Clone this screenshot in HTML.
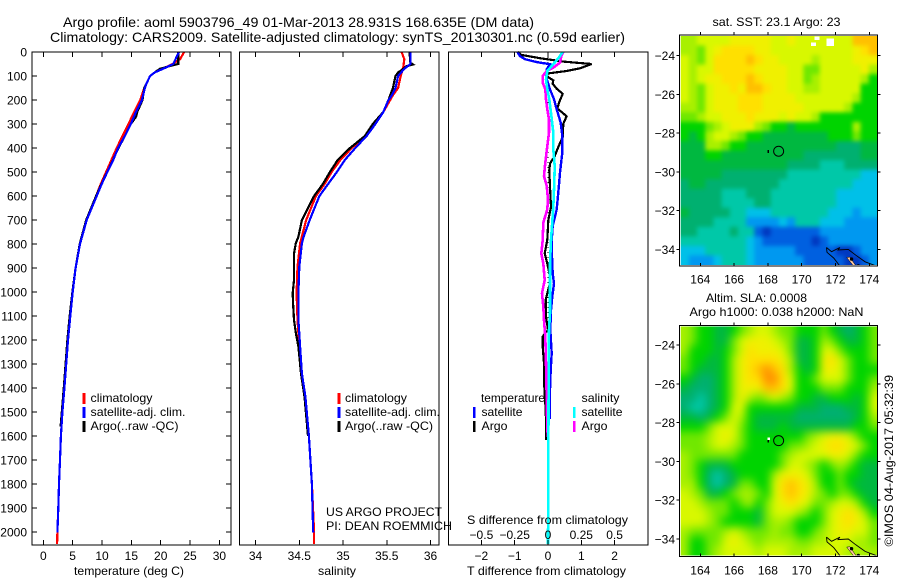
<!DOCTYPE html>
<html lang="en">
<head>
<meta charset="utf-8">
<title>Argo profile 5903796_49</title>
<style>
html,body{margin:0;padding:0;background:#fff;}
svg{display:block;}
text{font-family:"Liberation Sans",Arial,sans-serif;font-size:12px;fill:#000;}
.t14{font-size:14px;}
.crisp{shape-rendering:crispEdges;}
</style>
</head>
<body>
<svg id="chart" xmlns="http://www.w3.org/2000/svg" width="900" height="580" viewBox="0 0 900 580">
<rect x="0" y="0" width="900" height="580" fill="#fff"/>
<text class="t14" x="63" y="27" textLength="471" lengthAdjust="spacingAndGlyphs">Argo profile: aoml 5903796_49 01-Mar-2013 28.931S 168.635E (DM data)</text>
<text class="t14" x="50" y="42" textLength="575" lengthAdjust="spacingAndGlyphs">Climatology: CARS2009. Satellite-adjusted climatology: synTS_20130301.nc (0.59d earlier)</text>
<g id="layer-plots"></g>
<g id="layer-text">
<text x="74" y="575" textLength="110" lengthAdjust="spacingAndGlyphs">temperature (deg C)</text>
<text x="318" y="575" textLength="38" lengthAdjust="spacingAndGlyphs">salinity</text>
<text x="467" y="575" textLength="159" lengthAdjust="spacingAndGlyphs">T difference from climatology</text>
<text x="467" y="524" textLength="161" lengthAdjust="spacingAndGlyphs">S difference from climatology</text>
<text x="326" y="516" textLength="116" lengthAdjust="spacingAndGlyphs">US ARGO PROJECT</text>
<text x="326" y="530" textLength="126" lengthAdjust="spacingAndGlyphs">PI: DEAN ROEMMICH</text>

<rect x="82.5" y="393" width="3" height="11" fill="#ff0000"/>
<rect x="82.5" y="407" width="3" height="11" fill="#0000ff"/>
<rect x="82.5" y="421" width="3" height="11" fill="#000"/>
<text x="90.5" y="402" textLength="62" lengthAdjust="spacingAndGlyphs">climatology</text>
<text x="90.5" y="416" textLength="95" lengthAdjust="spacingAndGlyphs">satellite-adj. clim.</text>
<text x="90.5" y="430" textLength="88" lengthAdjust="spacingAndGlyphs">Argo(..raw -QC)</text>

<rect x="337.5" y="393" width="3" height="11" fill="#ff0000"/>
<rect x="337.5" y="407" width="3" height="11" fill="#0000ff"/>
<rect x="337.5" y="421" width="3" height="11" fill="#000"/>
<text x="345" y="402" textLength="62" lengthAdjust="spacingAndGlyphs">climatology</text>
<text x="345" y="416" textLength="95" lengthAdjust="spacingAndGlyphs">satellite-adj. clim.</text>
<text x="345" y="430" textLength="88" lengthAdjust="spacingAndGlyphs">Argo(..raw -QC)</text>

<text x="481" y="402" textLength="64" lengthAdjust="spacingAndGlyphs">temperature</text>
<rect x="473" y="407" width="2.5" height="11" fill="#0000ff"/>
<rect x="473" y="421" width="2.5" height="11" fill="#000"/>
<text x="481.5" y="416" textLength="41" lengthAdjust="spacingAndGlyphs">satellite</text>
<text x="481.5" y="430" textLength="26" lengthAdjust="spacingAndGlyphs">Argo</text>
<text x="581.5" y="402" textLength="38" lengthAdjust="spacingAndGlyphs">salinity</text>
<rect x="573" y="407" width="2.5" height="11" fill="#00ffff"/>
<rect x="573" y="421" width="2.5" height="11" fill="#ff00ff"/>
<text x="581.5" y="416" textLength="41" lengthAdjust="spacingAndGlyphs">satellite</text>
<text x="581.5" y="430" textLength="26" lengthAdjust="spacingAndGlyphs">Argo</text>

<text x="712.5" y="26" textLength="128" lengthAdjust="spacingAndGlyphs">sat. SST: 23.1 Argo: 23</text>
<text x="706" y="302" textLength="101" lengthAdjust="spacingAndGlyphs">Altim. SLA: 0.0008</text>
<text x="689.5" y="316" textLength="174" lengthAdjust="spacingAndGlyphs">Argo h1000: 0.038 h2000: NaN</text>
<text transform="translate(893,546.5) rotate(-90)" x="0" y="0" textLength="171.5" lengthAdjust="spacingAndGlyphs">©IMOS 04-Aug-2017 05:32:39</text>
</g>
</svg>
<script>
/* ---------- axis tick data ---------- */
const depthTicks = [0,100,200,300,400,500,600,700,800,900,1000,1100,1200,1300,1400,1500,1600,1700,1800,1900,2000];
const tempTicks = [0,5,10,15,20,25,30];
const salTicks = [34,34.5,35,35.5,36];
const salTickLabels = ['34','34.5','35','35.5','36'];
const tDiffTicks = [-2,-1,0,1,2];
const tDiffLabels = ['\u22122','\u22121','0','1','2'];
const sDiffTicks = [-0.5,-0.25,0,0.25,0.5];
const sDiffLabels = ['\u22120.5','\u22120.25','0','0.25','0.5'];
const lonTicks = [164,166,168,170,172,174];
const latTicks = [-24,-26,-28,-30,-32,-34];
const argoLon = 168.635;
const argoLat = -28.931;

/* ---------- temperature profiles ---------- */
const tempClimDepth = [0,30,50,60,70,85,100,130,150,200,250,300,350,400,450,500,550,600,700,800,900,1000,1100,1200,1300,1400,1500,1600,1700,1800,1900,2000,2050];
const tempClim = [24.0,23.3,22.0,21.2,20.3,19.0,18.2,17.6,17.2,16.5,15.5,14.5,13.5,12.5,11.6,10.7,9.8,9.0,7.3,6.2,5.5,5.0,4.6,4.2,3.9,3.6,3.25,3.0,2.85,2.67,2.55,2.4,2.35];
const tempSatDepth = [0,50,60,70,85,100,130,150,200,250,300,350,400,450,500,550,600,700,800,900,1000,1100,1200,1300,1400,1500,1600,1700,1800,1900,2003];
const tempSat = [23.1,22.15,21.3,20.4,19.0,18.2,17.6,17.3,16.8,15.8,14.9,13.9,12.75,11.9,10.9,9.95,9.1,7.4,6.25,5.5,5.0,4.6,4.2,3.9,3.6,3.25,3.0,2.85,2.67,2.55,2.4];
const tempArgoDepth = [0,50,55,70,85,100,130,150,200,250,270,300,350,400,450,500,550,600,700,800,900,1000,1100,1200,1300,1400,1500,1560];
const tempArgo = [23.0,23.0,22.1,19.9,19.0,18.2,17.6,17.2,16.9,16.0,15.8,14.9,13.9,12.8,11.85,10.9,9.9,9.0,7.3,6.2,5.5,4.95,4.5,4.1,3.8,3.5,3.15,2.95];

/* ---------- salinity profiles ---------- */
const salClimDepth = [0,30,60,100,150,180,200,250,300,350,400,450,500,550,600,700,797,894,1005,1116,1227,1340,1436,1600,1800,2000,2050];
const salClim = [35.67,35.70,35.69,35.66,35.63,35.57,35.54,35.46,35.35,35.25,35.10,34.97,34.87,34.79,34.69,34.58,34.51,34.48,34.47,34.48,34.50,34.53,34.57,34.61,34.645,34.67,34.67];
const salSatDepth = [0,50,70,100,150,180,200,250,300,350,400,450,500,550,600,700,770,797,894,1005,1116,1227,1340,1436,1600,1800,2003];
const salSat = [35.77,35.77,35.70,35.63,35.60,35.56,35.52,35.46,35.37,35.27,35.14,35.02,34.93,34.83,34.73,34.62,34.55,34.53,34.50,34.49,34.49,34.51,34.53,34.57,34.61,34.645,34.66];
const salArgoDepth = [0,45,52,60,70,85,100,150,200,250,300,350,400,450,500,550,600,700,770,797,840,950,1005,1050,1116,1170,1227,1340,1436,1600];
const salArgo = [35.76,35.77,35.80,35.72,35.69,35.63,35.60,35.57,35.52,35.46,35.34,35.25,35.08,34.94,34.85,34.77,34.67,34.53,34.49,34.46,34.44,34.44,34.425,34.43,34.44,34.46,34.49,34.52,34.56,34.60];

/* ---------- difference profiles ---------- */
const dTArgoDepth = [0,12,26,40,50,68,79,89,100,110,118,132,153,174,208,236,250,268,299,354,396,431,465,493,562,646,701,783,839,881,922,964,1005,1033,1102,1158,1186,1228,1297,1394,1463,1530,1617];
const dTArgo = [-0.9,-0.8,-0.24,0.46,1.31,0.96,0.56,0.01,-0.04,0.06,0.16,0.14,0.26,0.44,0.34,0.28,0.41,0.56,0.46,0.44,0.31,0.21,0.06,0.04,0.06,0.09,0.01,-0.02,-0.10,-0.02,0.04,0.06,-0.02,-0.07,-0.06,0.0,-0.16,-0.16,-0.12,-0.11,-0.08,-0.06,-0.06];
const dTSatDepth = [0,17,30,42,51,72,93,121,156,197,239,294,350,419,503,586,656,725,785,825,922,964,1019,1075,1158,1255,1325,1408,1529];
const dTSat = [-0.92,-0.84,-0.69,-0.34,0.06,-0.04,-0.07,-0.02,0.06,0.18,0.26,0.38,0.43,0.43,0.36,0.31,0.26,0.14,0.11,0.11,0.14,0.18,0.13,0.09,0.07,0.11,0.08,0.06,0.06];
const dSArgoDepth = [0,17,44,65,79,100,128,156,197,239,281,336,392,461,517,558,614,656,711,785,839,881,950,1005,1061,1117,1186,1297,1436,1575,1603];
const dSArgo = [0.115,0.10,0.09,0.04,-0.01,-0.04,-0.04,-0.02,-0.015,-0.005,0.0075,0.0075,-0.005,-0.02,-0.03,-0.01,0.0,-0.005,-0.035,-0.04,-0.05,-0.035,-0.025,-0.045,-0.035,-0.03,-0.02,-0.015,-0.01,-0.005,0.0];
const dSSatDepth = [0,24,51,79,114,156,197,253,336,406,475,544,646,725,783,881,1089,1158,1297,2050];
const dSSat = [0.11,0.08,0.04,-0.005,-0.015,-0.005,0.01,0.0225,0.04,0.04,0.05,0.0475,0.04,0.03,0.0225,0.015,0.015,0.0075,0.005,0.0];

/* ---------- map cells: colour-scale level per cell, north to south, west to east ---------- */
const sstLevels = [
[9,9,10,10,10,10,11,11,11,11,11,10,10,11,10,10,10,10,10,10,10,13,13,13],
[9,9,8,10,11,12,12,12,12,11,11,10,10,10,10,10,10,10,10,10,10,11,12,13],
[10,9,8,10,12,12,12,12,13,12,11,11,10,10,10,10,9,10,10,10,10,11,11,11],
[10,9,10,10,12,12,12,12,12,11,11,11,11,10,10,8,8,10,10,10,10,10,11,9],
[10,9,10,11,11,12,12,12,13,12,11,11,11,10,10,8,9,10,10,10,10,10,9,7],
[10,9,8,10,11,11,12,11,13,13,12,11,11,10,10,9,9,10,10,10,10,10,7,7],
[10,9,8,10,11,11,11,12,12,12,11,11,11,11,10,10,10,10,10,10,10,9,7,7],
[9,9,8,10,11,11,11,12,12,12,11,11,11,11,11,10,10,10,10,10,9,7,7,7],
[8,8,9,10,10,11,11,11,12,11,11,11,10,11,10,10,9,7,7,7,7,7,7,7],
[7,7,7,8,9,10,11,11,11,9,8,7,7,6,7,7,7,7,7,7,7,9,7,7],
[7,6,7,9,10,10,9,8,7,7,6,6,6,6,6,6,6,6,7,7,7,8,7,7],
[6,6,6,9,9,8,7,7,6,6,6,6,6,6,6,6,6,6,6,5,5,5,6,6],
[6,6,6,7,7,6,6,6,6,6,6,6,6,6,6,5,5,5,5,5,5,5,6,6],
[6,6,6,6,6,6,6,6,6,6,6,6,6,5,5,5,5,4,4,4,5,5,5,5],
[6,6,6,6,6,5,5,5,5,5,5,5,5,4,4,4,4,4,4,4,4,4,3,3],
[5,6,6,5,5,5,5,5,5,5,5,5,4,4,4,4,4,4,4,4,4,3,3,3],
[5,5,5,5,5,4,4,4,5,5,5,4,4,4,4,4,4,4,4,3,3,3,3,3],
[5,5,5,5,5,4,4,4,4,5,5,4,4,4,4,4,4,4,4,3,3,3,3,3],
[6,5,5,5,5,5,4,4,3,3,3,4,4,4,4,4,4,4,3,3,3,2,3,3],
[5,5,5,5,4,4,4,4,2,2,2,2,3,2,4,4,4,3,3,3,2,2,2,2],
[5,5,4,4,4,4,5,4,4,1,0,1,1,1,1,1,1,2,2,2,2,2,2,2],
[4,4,4,4,4,4,4,4,3,2,1,1,1,1,1,1,0,1,2,2,2,2,2,2],
[3,3,3,4,4,4,4,4,3,2,2,2,2,2,1,1,1,1,1,0,0,1,2,2],
[3,2,2,2,3,4,4,4,3,2,2,2,2,2,2,1,1,1,1,1,0,0,1,2]
];
const slaLevels = [
[9,8,7,7,6,6,7,8,9,10,10,9,8,8,7,7,7,8,7,6,5,6,7,8],
[9,8,7,7,6,6,8,10,11,11,11,10,9,8,6,6,7,9,8,7,6,6,7,8],
[9,7,7,7,6,7,8,10,12,11,11,11,10,8,6,6,7,10,10,8,7,7,7,8],
[8,7,7,6,6,7,9,11,12,12,12,12,11,9,6,6,7,11,12,10,8,7,7,8],
[8,7,6,6,6,7,9,11,12,13,14,13,12,9,7,6,7,11,11,10,8,7,7,7],
[7,6,5,5,6,7,9,11,12,12,14,14,12,10,7,7,8,10,10,10,8,7,7,8],
[6,5,5,5,6,7,9,11,11,11,13,13,12,10,7,7,7,8,8,8,7,7,7,9],
[5,5,4,5,6,7,9,11,9,8,9,10,9,8,7,7,6,6,7,7,7,6,7,10],
[5,4,4,5,6,7,10,10,7,7,7,7,7,7,6,6,6,5,5,5,6,6,7,10],
[6,6,5,6,7,8,10,9,7,6,6,6,6,6,5,5,5,5,5,5,5,6,7,9],
[7,7,7,8,10,10,10,8,7,6,6,6,7,6,6,6,6,6,6,6,6,7,7,8],
[8,8,8,9,10,11,10,8,7,7,7,7,7,7,7,8,9,10,11,11,10,8,7,7],
[8,8,8,9,10,10,9,8,7,7,7,7,7,8,8,9,10,11,12,12,11,10,8,7],
[9,8,8,8,8,8,8,7,7,7,7,7,8,9,10,10,10,10,11,11,10,8,7,7],
[9,8,7,6,6,6,7,7,7,7,7,7,8,10,10,9,8,7,8,9,8,7,6,6],
[9,8,7,5,4,5,6,7,7,7,7,9,11,11,11,10,8,7,7,8,7,7,6,6],
[9,9,7,5,4,5,6,8,8,7,7,10,12,13,12,11,9,7,7,8,7,6,6,6],
[10,9,8,6,6,7,8,9,9,8,7,10,12,13,12,11,9,8,7,8,8,7,6,6],
[10,10,9,8,8,8,7,8,9,7,8,10,11,12,11,10,8,8,9,10,10,9,7,6],
[10,10,10,9,8,8,7,7,7,6,8,10,10,10,9,8,7,8,10,11,12,11,9,7],
[10,10,10,9,8,7,7,7,7,6,8,9,9,8,7,7,7,8,10,11,12,11,10,8],
[9,8,8,8,8,9,10,9,8,8,8,9,8,8,7,7,8,9,10,11,11,10,10,8],
[9,7,7,8,8,10,11,10,9,8,9,9,9,9,8,8,9,9,10,10,10,9,9,8],
[9,7,7,8,9,10,10,10,10,9,10,10,10,9,9,9,10,10,10,10,9,9,9,9]
];
/* missing SST pixels, west and north edge of each gap in degrees */
const sstMissingLon = [171.48,170.55,170.75];
const sstMissingLat = [-23.1,-23.33,-23.0];
const coastNorthLon = [171.47,171.77,172.26,172.15,172.76,173.2,173.75,174.43];
const coastNorthLat = [-33.9,-34.12,-33.9,-34.03,-34.0,-34.3,-34.64,-34.86];
const coastSouthLon = [171.47,171.5,171.9,172.26];
const coastSouthLat = [-33.9,-34.15,-34.45,-34.86];
const landLon = [172.66,172.85,173.25,173.1];
const landLat = [-34.42,-34.4,-34.9,-34.9];
const blobLon = [172.95,173.35];
const blobLat = [-34.5,-34.85];

/* colour scale (presentation, index = level) */
const scaleColors = ['#0038c0','#0060e0','#0098f0','#00c0e8','#00c8a8','#00b070','#00b840','#00d400','#70e800','#a8f000','#d8f800','#f0f000','#ffe000','#ffc000','#ff9000'];

const SVGNS = 'http://www.w3.org/2000/svg';
const root = document.getElementById('layer-plots');

function make(tag, attrs, parent){
  const el = document.createElementNS(SVGNS, tag);
  for (const k in attrs) el.setAttribute(k, attrs[k]);
  (parent || root).appendChild(el);
  return el;
}
function label(name, x, y, str, anchor){
  const el = make('text', {x:x, y:y, 'text-anchor':anchor || 'middle'});
  el.textContent = str;
  
  
  return el;
}
function tick(name, x1, y1, x2, y2){
  const el = make('line', {x1:x1, y1:y1, x2:x2, y2:y2, stroke:'#000', 'stroke-width':1, class:'crisp'});
  
  
  return el;
}
function frame(name, x, y, w, h){
  const el = make('rect', {x:x, y:y, width:w, height:h, fill:'none', stroke:'#000', 'stroke-width':1, class:'crisp'});
  
  
  return el;
}
function profile(name, depths, values, xf, color, width){
  const pts = depths.map(function(d, i){ return xf(values[i]).toFixed(1) + ',' + yDepth(d).toFixed(1); }).join(' ');
  const el = make('polyline', {points:pts, fill:'none', stroke:color, 'stroke-width':width, 'stroke-linejoin':'miter', class:'crisp'});
  
  
  return el;
}

/* axis functions */
const plotTop = 52, plotBottom = 545;
function yDepth(d){ return 52 + d * 0.24; }
function xTemp(t){ return 43.3 + t * 5.87; }
function xSal(s){ return 343 + (s - 35) * 87.5; }
function xDT(t){ return 548 + t * 33.3; }
function xDS(s){ return 548 + s * 133.2; }
function xLon(lon){ return 700.3 + (lon - 164) * 16.9; }
function yLat1(lat){ return 55.7 + (-24 - lat) * 19.37; }
function yLat2(lat){ return 345 + (-24 - lat) * 19.4; }

/* ---------- panel 1: temperature ---------- */
profile('temperature-climatology-line', tempClimDepth, tempClim, xTemp, '#ff0000', 2.2);
profile('temperature-argo-line', tempArgoDepth, tempArgo, xTemp, '#000000', 2.2);
profile('temperature-satellite-line', tempSatDepth, tempSat, xTemp, '#0000ff', 2.2);
frame('temperature-plot-frame', 32, plotTop, 199, plotBottom - plotTop);
depthTicks.forEach(function(d){
  const y = yDepth(d);
  tick('depth-tick-left', 32, y, 37, y);
  tick('depth-tick-right', 226, y, 231, y);
  label('depth-tick-label', 27, y + 4.5, String(d), 'end');
});
tempTicks.forEach(function(t){
  const x = xTemp(t);
  tick('temperature-tick-top', x, 52, x, 57);
  tick('temperature-tick-bottom', x, 540, x, 545);
  label('temperature-tick-label', x, 560, String(t));
});

/* ---------- panel 2: salinity ---------- */
profile('salinity-climatology-line', salClimDepth, salClim, xSal, '#ff0000', 2.2);
profile('salinity-argo-line', salArgoDepth, salArgo, xSal, '#000000', 2.2);
profile('salinity-satellite-line', salSatDepth, salSat, xSal, '#0000ff', 2.2);
frame('salinity-plot-frame', 239.5, plotTop, 199.5, plotBottom - plotTop);
salTicks.forEach(function(s, i){
  const x = xSal(s);
  tick('salinity-tick-top', x, 52, x, 57);
  tick('salinity-tick-bottom', x, 540, x, 545);
  label('salinity-tick-label', x, 560, salTickLabels[i]);
});

/* ---------- panel 3: differences ---------- */
const zeroLine = make('line', {x1:xDT(0), y1:52, x2:xDT(0), y2:545, stroke:'#000', 'stroke-width':1, 'stroke-dasharray':'1 4', class:'crisp'});


profile('t-diff-argo-line', dTArgoDepth, dTArgo, xDT, '#000000', 2.2);
profile('t-diff-satellite-line', dTSatDepth, dTSat, xDT, '#0000ff', 2.4);
profile('s-diff-argo-line', dSArgoDepth, dSArgo, xDS, '#ff00ff', 2.6);
profile('s-diff-satellite-line', dSSatDepth, dSSat, xDS, '#00ffff', 2.6);
frame('difference-plot-frame', 448.5, plotTop, 199.5, plotBottom - plotTop);
tDiffTicks.forEach(function(t, i){
  const x = xDT(t);
  tick('t-diff-tick-top', x, 52, x, 57);
  tick('t-diff-tick-bottom', x, 540, x, 545);
  label('t-diff-tick-label', x, 560, tDiffLabels[i]);
});
sDiffTicks.forEach(function(s, i){
  label('s-diff-tick-label', xDS(s), 539, sDiffLabels[i]);
});

/* ---------- maps ---------- */
const defs = make('defs', {});



function drawMap(prefix, levels, yLat, mapTop, mapBottom, lonLabelY, blur){
  const left = 680.7, right = 877;
  const imgBottom = mapBottom - 1;
  const cw = (right - left) / levels[0].length;
  const ch = (imgBottom - mapTop) / levels.length;
  const pad = 14;

  const clip = make('clipPath', {id:prefix + '-clip'}, defs);
  make('rect', {x:left, y:mapTop, width:right - left, height:imgBottom - mapTop}, clip);
  const filter = make('filter', {id:prefix + '-smooth', filterUnits:'userSpaceOnUse', x:left - pad, y:mapTop - pad, width:right - left + 2 * pad, height:imgBottom - mapTop + 2 * pad, 'color-interpolation-filters':'sRGB'}, defs);
  make('feGaussianBlur', {stdDeviation:blur}, filter);

  const clipGroup = make('g', {'clip-path':'url(#' + prefix + '-clip)'});
  
  
  const cells = make('g', {filter:'url(#' + prefix + '-smooth)'}, clipGroup);
  
  

  levels.forEach(function(row, r){
    row.forEach(function(v, c){
      const x0 = c === 0 ? left - pad : left + c * cw;
      const x1 = c === row.length - 1 ? right + pad : left + (c + 1) * cw + 0.6;
      const y0 = r === 0 ? mapTop - pad : mapTop + r * ch;
      const y1 = r === levels.length - 1 ? imgBottom + pad : mapTop + (r + 1) * ch + 0.6;
      const cell = make('rect', {x:x0.toFixed(2), y:y0.toFixed(2), width:(x1 - x0).toFixed(2), height:(y1 - y0).toFixed(2), fill:scaleColors[v]}, cells);
      
      
    });
  });

  function coastPoints(lons, lats){
    return lons.map(function(lon, i){ return xLon(lon).toFixed(1) + ',' + yLat(lats[i]).toFixed(1); }).join(' ');
  }
  const land = make('polygon', {points:coastPoints(landLon, landLat), fill:'#ffc8a0', stroke:'#000', 'stroke-width':0.5}, clipGroup);
  
  
  blobLon.forEach(function(lon, i){
    const blob = make('circle', {cx:xLon(lon), cy:yLat(blobLat[i]), r:1.7, fill:'#000'}, clipGroup);
    
    
  });
  const coastA = make('polyline', {points:coastPoints(coastNorthLon, coastNorthLat), fill:'none', stroke:'#000', 'stroke-width':0.9}, clipGroup);
  
  
  const coastB = make('polyline', {points:coastPoints(coastSouthLon, coastSouthLat), fill:'none', stroke:'#000', 'stroke-width':0.9}, clipGroup);
  
  
  const marker = make('circle', {cx:xLon(argoLon), cy:yLat(argoLat), r:5, fill:'none', stroke:'#000', 'stroke-width':1});
  
  
  const dot = make('rect', {x:xLon(argoLon) - 11, y:yLat(argoLat) - 1, width:1.6, height:3, fill:'#000', class:'crisp'});
  
  

  frame(prefix + '-map-frame', 679.5, mapTop - 1, 198, mapBottom - mapTop + 1);
  lonTicks.forEach(function(lon){
    const x = xLon(lon);
    tick(prefix + '-lon-tick-top', x, mapTop - 4, x, mapTop - 1);
    tick(prefix + '-lon-tick-bottom', x, mapBottom - 3, x, mapBottom);
    label(prefix + '-lon-tick-label', x, lonLabelY, String(lon));
  });
  latTicks.forEach(function(lat){
    const y = yLat(lat);
    tick(prefix + '-lat-tick-left', 676.5, y, 679.5, y);
    tick(prefix + '-lat-tick-right', 877.5, y, 880.5, y);
    label(prefix + '-lat-tick-label', 675, y + 4.5, '\u2212' + Math.abs(lat), 'end');
  });
}
drawMap('sst', sstLevels, yLat1, 36, 266, 283.5, 2);
drawMap('sla', slaLevels, yLat2, 326.5, 556.5, 574.5, 4.5);

/* missing-data pixels on the SST map */
sstMissingLon.forEach(function(lon, i){
  const gap = make('rect', {x:xLon(lon).toFixed(1), y:yLat1(sstMissingLat[i]).toFixed(1), width:i === 0 ? 7.5 : 5, height:i === 0 ? 7.5 : 3.5, fill:'#fff', class:'crisp'});
  
  
});
/* white track spot on the SLA map */
const slaSpot = make('rect', {x:xLon(argoLon) - 11.2, y:yLat2(argoLat) - 3, width:2.4, height:2.4, fill:'#fff', class:'crisp'});


</script>
</body>
</html>
